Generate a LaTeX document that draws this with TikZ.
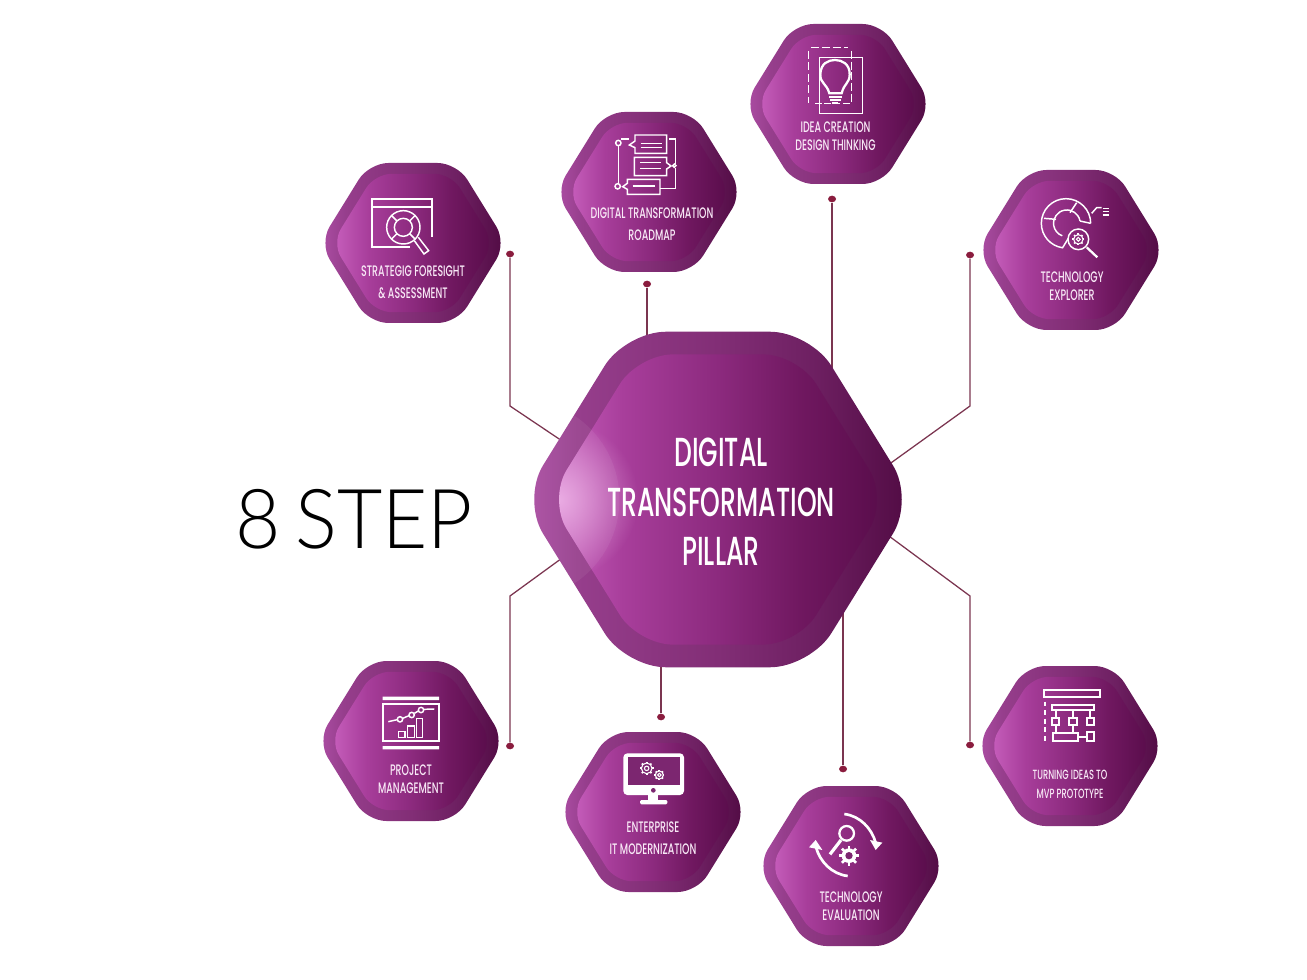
\documentclass[tikz,border=0pt]{standalone}
\usepackage{fontspec}
\usepackage{xcolor}
\usepackage{tikz}
\usetikzlibrary{backgrounds,fadings,shapes.geometric}
\newfontfamily\labelfont[FakeStretch=0.62,UprightFont={* Medium}]{Poppins}
\newfontfamily\stepfont[FakeStretch=0.945,UprightFont={* Light},WordSpace=0.7]{Lato}
\definecolor{LinkRed}{HTML}{7B3550}
\definecolor{DotRed}{HTML}{8A1C3E}
\definecolor{PaleLabel}{HTML}{F8E9F6}
\definecolor{Screen}{HTML}{7C2670}
\definecolor{GlowPink}{HTML}{F6C4F0}
\definecolor{OuterA}{HTML}{AD4EA5}
\definecolor{OuterB}{HTML}{963E8C}
\definecolor{OuterC}{HTML}{822E76}
\definecolor{OuterD}{HTML}{6E2062}
\definecolor{OuterE}{HTML}{500A42}
\definecolor{InnerA}{HTML}{C860BE}
\definecolor{InnerB}{HTML}{A83E9B}
\definecolor{InnerC}{HTML}{8C2A7E}
\definecolor{InnerD}{HTML}{701860}
\definecolor{InnerE}{HTML}{580C4A}
\pgfdeclarehorizontalshading{outerpurple}{100bp}{color(0bp)=(OuterA);color(25bp)=(OuterA);color(32bp)=(OuterB);color(50bp)=(OuterC);color(62bp)=(OuterD);color(75bp)=(OuterE);color(100bp)=(OuterE)}
\pgfdeclarehorizontalshading{innerpurple}{100bp}{color(0bp)=(InnerA);color(25bp)=(InnerA);color(36bp)=(InnerB);color(50bp)=(InnerC);color(62bp)=(InnerD);color(75bp)=(InnerE);color(100bp)=(InnerE)}
\tikzfading[name=glow,inner color=transparent!25,outer color=transparent!100]
\tikzset{
  hexouter/.style={shading=outerpurple},
  hexinner/.style={shading=innerpurple},
  caption/.style={text=PaleLabel,align=center,inner sep=0pt,
                  font=\labelfont\fontsize{11.4pt}{13.5pt}\selectfont},
  hubcaption/.style={text=white,align=center,inner sep=0pt,
                  font=\labelfont\fontsize{30.4pt}{37pt}\selectfont},
  endmark/.style={ellipse,fill=DotRed,draw=none,minimum width=6pt,minimum height=5pt,inner sep=0pt},
  link/.style={draw=LinkRed,line width=.95pt},
  iconline/.style={draw=white,line width=1.1pt},
  iconthick/.style={draw=white,line width=1.7pt}
}
\newcommand{\hexoutline}{(-44,-80) -- (44,-80) -- (93.5,0) -- (44,80) -- (-44,80) -- (-93.5,0) -- cycle}
\newcommand{\hexbadge}[5]{%
  \begin{scope}[shift={(#1,#2)},scale=#3]
    \path[hexouter,rounded corners=#4] \hexoutline;
    \begin{scope}[scale=.865]
      \path[hexinner,rounded corners=#5] \hexoutline;
    \end{scope}
  \end{scope}}
\newcommand{\cogwheel}[3]{%
  \draw[iconline,line width=.8pt] (#1,#2) circle [radius=#3];
  \draw[iconline,line width=.8pt] (#1,#2) circle [radius=#3*.42];
  \foreach \a in {0,45,...,315}
    \draw[iconline,line width=1.3pt] ([shift={(#1,#2)}]\a:#3) -- ([shift={(#1,#2)}]\a:#3*1.28);}
\begin{document}
\begin{tikzpicture}[x=.75pt,y=-.75pt]
  \useasboundingbox (0,0) rectangle (1307,980);

  \hexbadge{718}{499.5}{2.097}{30pt}{26pt}
  \begin{scope}[shift={(718,499.5)},scale=2.097]
    \begin{scope}
      \clip[rounded corners=30pt] \hexoutline;
      \fill[white,opacity=.06] (-95,0) circle [radius=48];
    \end{scope}
    \begin{scope}[scale=.865]
      \clip[rounded corners=26pt] \hexoutline;
      \fill[GlowPink,path fading=glow] (-88,0) circle [radius=44];
    \end{scope}
  \end{scope}

  \hexbadge{413}{243}{1}{14.5pt}{12.5pt}
  \hexbadge{649}{192}{1}{14.5pt}{12.5pt}
  \hexbadge{838}{104}{1}{14.5pt}{12.5pt}
  \hexbadge{1071}{250}{1}{14.5pt}{12.5pt}
  \hexbadge{411}{741}{1}{14.5pt}{12.5pt}
  \hexbadge{653}{812}{1}{14.5pt}{12.5pt}
  \hexbadge{851}{866}{1}{14.5pt}{12.5pt}
  \hexbadge{1070}{746}{1}{14.5pt}{12.5pt}

  \node[hubcaption] (hub) at (721,502) {DIGITAL\\TRANSFORMATION\\PILLAR};
  \node[caption] (foresight) at (413,282) {STRATEGIG FORESIGHT\\[3pt]\& ASSESSMENT};
  \node[caption] (roadmap) at (652,224) {DIGITAL TRANSFORMATION\\[3pt]ROADMAP};
  \node[caption] (idea) at (835.5,136.5) {IDEA CREATION\\DESIGN THINKING};
  \node[caption] (explorer) at (1072,286) {TECHNOLOGY\\EXPLORER};
  \node[caption] (project) at (411,779) {PROJECT\\MANAGEMENT};
  \node[caption] (enterprise) at (653,838) {ENTERPRISE\\[3pt]IT MODERNIZATION};
  \node[caption] (evaluation) at (851,906) {TECHNOLOGY\\EVALUATION};
  \node[caption,font=\labelfont\fontsize{10pt}{14pt}\selectfont] (mvp) at (1070,784.5) {TURNING IDEAS TO\\MVP PROTOTYPE};
  \node[inner sep=0pt,font=\stepfont\fontsize{62pt}{70pt}\selectfont] (steps) at (354,519) {8 STEP};

  \node[endmark] (dotforesight) at (510,254) {};
  \node[endmark] (dotroadmap) at (647,284) {};
  \node[endmark] (dotidea) at (832,199) {};
  \node[endmark] (dotexplorer) at (970,255) {};
  \node[endmark] (dotproject) at (510,746) {};
  \node[endmark] (dotenterprise) at (661,717) {};
  \node[endmark] (dotevaluation) at (843,769) {};
  \node[endmark] (dotmvp) at (970,745) {};

  \coordinate (bendforesight) at (510,406);
  \coordinate (bendexplorer) at (970,406);
  \coordinate (bendproject) at (510,596);
  \coordinate (bendmvp) at (970,596);
  \coordinate (portforesight) at (580,453);
  \coordinate (portexplorer) at (870,478);
  \coordinate (portproject) at (580,545);
  \coordinate (portmvp) at (870,522);

  \begin{scope}[on background layer]
    \draw[link] (dotforesight) -- (bendforesight) -- (portforesight);
    \draw[link] (dotexplorer) -- (bendexplorer) -- (portexplorer);
    \draw[link] (dotproject) -- (bendproject) -- (portproject);
    \draw[link] (dotmvp) -- (bendmvp) -- (portmvp);
    \draw[link] (dotroadmap) -- (dotroadmap |- hub);
    \draw[link] (dotidea) -- (dotidea |- hub);
    \draw[link] (dotenterprise) -- (dotenterprise |- hub);
    \draw[link] (dotevaluation) -- (dotevaluation |- hub);
  \end{scope}

  \begin{scope}[shift={(320,150)},x=.25pt,y=-.25pt]
    \draw[iconthick] (270,292) -- (155,292) -- (155,148) -- (335,148) -- (335,262);
    \draw[iconthick] (155,170) -- (335,170);
    \draw[iconline] (250,232) circle [radius=50];
    \draw[iconline] (250,232) circle [radius=27];
    \foreach \a in {45,135,225,315}
      \draw[iconline] ([shift={(250,232)}]\a:27) -- ([shift={(250,232)}]\a:50);
    \draw[iconline] (283,272) -- (312,312) -- (326,302) -- (295,262);
  \end{scope}

  \begin{scope}[shift={(550,15)},x=.25pt,y=-.25pt]
    \draw[iconline] (255,378) -- (255,360) -- (350,360) -- (350,415) -- (255,415) -- (255,398) -- (238,390) -- cycle;
    \draw[iconline] (272,385) -- (335,385) (272,398) -- (335,398);
    \draw[iconline] (350,443) -- (350,427) -- (253,427) -- (253,482) -- (350,482) -- (350,462) -- (363,453) -- cycle;
    \draw[iconline] (270,443) -- (332,443) (270,460) -- (332,460);
    \draw[iconline] (232,505) -- (232,493) -- (330,493) -- (330,538) -- (232,538) -- (232,523) -- (218,515) -- cycle;
    \draw[iconline] (248,513) -- (315,513);
    \draw[iconline] (205,384) circle [radius=8] (203,514) circle [radius=8] (373,452) circle [radius=5];
    \draw[iconline] (205,392) -- (205,506);
    \draw[iconline] (213,372) -- (237,372);
    \draw[iconline] (358,372) -- (377,372) -- (377,447);
    \draw[iconline] (377,458) -- (377,520) -- (330,520);
  \end{scope}

  \begin{scope}[shift={(550,15)},x=.25pt,y=-.25pt]
    \draw[iconline,dash pattern=on 6pt off 2.2pt] (783,98) -- (895,98);
    \draw[iconline,dash pattern=on 6pt off 2.6pt] (775,108) -- (775,265);
    \draw[iconline,dash pattern=on 5pt off 2pt] (795,265) -- (905,265);
    \draw[iconline,dash pattern=on 6pt off 2pt] (905,108) -- (905,265);
    \draw[iconline] (808,127) rectangle (938,295);
    \draw[iconthick] (838,235) .. controls (830,205) and (810,205) .. (811,178) .. controls (812,145) and (835,135) .. (855,135) .. controls (877,135) and (899,147) .. (899,178) .. controls (899,205) and (882,205) .. (875,235) -- cycle;
    \draw[iconthick] (838,245) -- (875,245) (840,255) -- (872,255) (846,263) -- (865,263);
  \end{scope}

  \begin{scope}[shift={(970,160)},x=.25pt,y=-.25pt]
    \draw[iconline] (362,190) arc [start angle=0,end angle=-262,radius=74] -- (295,235);
    \draw[iconline] (330,183) arc [start angle=-10,end angle=-250,radius=40];
    \draw[iconline] (362,190) -- (330,183);
    \draw[iconline] (320,128) -- (300,158);
    \draw[iconline] (222,175) -- (258,178);
    \draw[iconline] (325,238) circle [radius=31];
    \cogwheel{325}{238}{14}
    \draw[iconthick] (350,262) -- (382,292);
    \draw[iconline] (365,160) -- (380,143) -- (395,143);
    \draw[iconline] (398,145) -- (418,145) (398,155) -- (418,155) (398,165) -- (418,165);
  \end{scope}

  \begin{scope}[shift={(315,650)},x=.25pt,y=-.25pt]
    \fill[white] (203,140) rectangle (372,150) (203,288) rectangle (372,298);
    \draw[iconthick] (205,163) rectangle (372,272);
    \draw[iconline] (220,215) -- (247,209) (263,205) -- (282,197) (298,190) -- (310,183) (326,178) -- (358,177);
    \draw[iconline] (255,208) circle [radius=8] (290,195) circle [radius=8] (318,180) circle [radius=8];
    \draw[iconline] (250,245) rectangle (270,262) (278,228) rectangle (298,262) (305,205) rectangle (323,262);
  \end{scope}

  \begin{scope}[shift={(555,720)},x=.25pt,y=-.25pt]
    \fill[white,rounded corners=3pt] (205,100) rectangle (387,225);
    \fill[Screen] (218,112) rectangle (375,195);
    \fill[Screen] (295,211) circle [radius=7];
    \fill[white] (280,225) rectangle (310,242);
    \fill[white,rounded corners=1pt] (255,240) rectangle (337,253);
    \cogwheel{275}{145}{16}
    \cogwheel{313}{165}{12}
  \end{scope}

  \begin{scope}[shift={(555,720)},x=.25pt,y=-.25pt]
    \draw[iconthick,line width=2pt] (868,282) .. controls (915,288) and (950,325) .. (962,368);
    \fill[white] (945,360) -- (982,368) -- (962,390) -- cycle;
    \draw[iconthick,line width=2pt] (878,468) .. controls (830,462) and (795,425) .. (783,382);
    \fill[white] (762,382) -- (782,360) -- (802,390) -- cycle;
    \draw[iconthick] (875,340) circle [radius=22];
    \draw[white,line width=2.4pt] (858,360) -- (825,403);
    \fill[white] (882,407) circle [radius=22];
    \fill[Screen] (882,407) circle [radius=11];
    \foreach \a in {0,45,...,315}
      \draw[white,line width=2pt] ([shift={(882,407)}]\a:20) -- ([shift={(882,407)}]\a:30);
  \end{scope}

  \begin{scope}[shift={(970,655)},x=.25pt,y=-.25pt]
    \draw[iconthick] (222,105) rectangle (390,127);
    \draw[white,line width=1.7pt,dash pattern=on 3.6pt off 2.8pt] (225,140) -- (225,262);
    \draw[iconthick] (247,150) rectangle (372,166);
    \draw[iconthick] (245,188) rectangle (267,210) (298,188) rectangle (320,210) (350,188) rectangle (372,210);
    \draw[iconthick] (258,166) -- (258,188) (310,166) -- (310,188) (360,166) -- (360,188);
    \draw[iconthick] (248,235) rectangle (325,257) (350,232) rectangle (372,257);
    \draw[iconthick] (325,245) -- (350,245) (258,210) -- (258,235) (310,210) -- (310,235);
  \end{scope}
\end{tikzpicture}
\end{document}
